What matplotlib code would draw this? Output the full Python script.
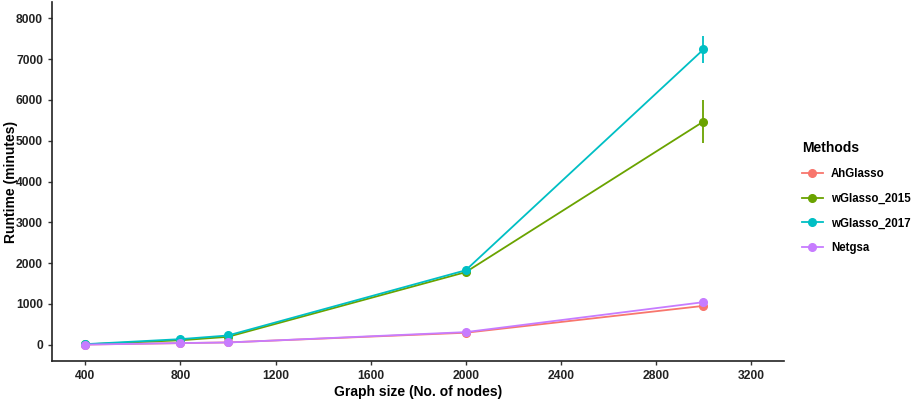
import matplotlib.pyplot as plt
from matplotlib.lines import Line2D

# graph sizes and mean runtimes (minutes)
graph_size = [400, 800, 1000, 2000, 3000]
methods = ["AhGlasso", "wGlasso_2015", "wGlasso_2017", "Netgsa"]
ahglasso = [5, 40, 58, 295, 953]
wglasso_2015 = [10, 110, 195, 1780, 5470]
wglasso_2017 = [15, 138, 228, 1826, 7237]
netgsa = [5, 42, 56, 310, 1044]
# error bar half-widths (only visible at 3000 for the wGlasso runs)
err_2015 = [0, 0, 0, 0, 525]
err_2017 = [0, 0, 0, 0, 330]
err_none = [0, 0, 0, 0, 0]

colors = ["#F8766D", "#6AA300", "#00BFC4", "#C77CFF"]
xticks = [400, 800, 1200, 1600, 2000, 2400, 2800, 3200]
yticks = [0, 1000, 2000, 3000, 4000, 5000, 6000, 7000, 8000]

plt.rcParams['font.family'] = ['Liberation Sans', 'DejaVu Sans']

fig = plt.figure(figsize=(9.13, 3.99), dpi=100)
ax = fig.add_axes([0.057, 0.095, 0.802, 0.9])

series = [ahglasso, wglasso_2015, wglasso_2017, netgsa]
errs = [err_none, err_2015, err_2017, err_none]
for name, ys, er, c in zip(methods, series, errs, colors):
    ax.errorbar(graph_size, ys, yerr=er, color=c, lw=1.3, marker="o", ms=5.5,
                elinewidth=1.3, capsize=0)

ax.set_xlim(260, 3340)
ax.set_ylim(-400, 8400)
ax.set_xticks(xticks)
ax.set_yticks(yticks)
ax.tick_params(labelsize=8.7, colors="#333333", length=3, width=1)
for lab in ax.get_xticklabels() + ax.get_yticklabels():
    lab.set_fontweight("bold")
    lab.set_color("#222222")
for s in ["top", "right"]:
    ax.spines[s].set_visible(False)
for s in ["left", "bottom"]:
    ax.spines[s].set_linewidth(1.2)
    ax.spines[s].set_color("#222222")

ax.set_xlabel("Graph size (No. of nodes)", fontsize=10, fontweight="bold", labelpad=2)
ax.set_ylabel("Runtime (minutes)", fontsize=10, fontweight="bold")
ax.yaxis.set_label_coords(-0.047, 0.5)

handles = [Line2D([], [], color=c, lw=1.3, marker="o", ms=5.5) for c in colors]
leg = ax.legend(handles, methods, title="Methods", loc="center left",
                bbox_to_anchor=(1.01, 0.455), frameon=False, fontsize=8.3,
                title_fontproperties={"weight": "bold", "size": 10},
                handlelength=1.8, handletextpad=0.7, labelspacing=1.1)
leg._legend_box.align = "left"
for t in leg.get_texts():
    t.set_fontweight("bold")

fig.savefig("out.png", dpi=100)
